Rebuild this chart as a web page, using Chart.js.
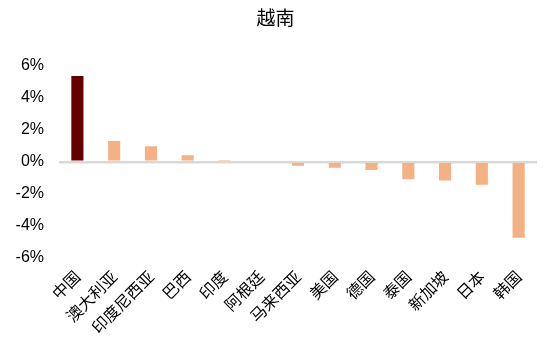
<!DOCTYPE html>
<html>
<head>
<meta charset="utf-8">
<script src="https://cdn.jsdelivr.net/npm/chart.js@4"></script>
<style>
  html, body { margin: 0; padding: 0; background: #fff; }
  #wrap { width: 550px; height: 346px; }
</style>
</head>
<body>
<div id="wrap"><canvas id="myChart"></canvas></div>
<script>
const countries = ['中国', '澳大利亚', '印度尼西亚', '巴西', '印度', '阿根廷', '马来西亚', '美国', '德国', '泰国', '新加坡', '日本', '韩国'];
const changes = [5.36, 1.30, 0.97, 0.41, 0.12, 0.0, -0.25, -0.37, -0.51, -1.09, -1.17, -1.44, -4.74];
const yTicks = [-6, -4, -2, 0, 2, 4, 6];

const cjk = '"Noto Sans CJK SC", "Noto Sans", sans-serif';

const barColors = countries.map((c, i) => i === 0 ? '#640000' : '#F4B183');

new Chart(document.getElementById('myChart'), {
    type: 'bar',
    data: {
        labels: countries,
        datasets: [
            {
                data: changes,
                backgroundColor: barColors,
                categoryPercentage: 1,
                barPercentage: 0.33
            }
        ]
    },
    options: {
        responsive: true,
        maintainAspectRatio: false,
        animation: false,
        layout: {
            padding: {left: 14, right: 13, top: 0, bottom: 8}
        },
        plugins: {
            legend: {display: false},
            tooltip: {enabled: false},
            title: {
                display: true,
                text: '越南',
                color: '#000',
                font: {family: cjk, size: 19, weight: 'normal'},
                padding: {top: 6, bottom: 37}
            }
        },
        scales: {
            x: {
                grid: {display: false},
                border: {display: false},
                afterFit(axis) {
                    axis.paddingLeft = 0;
                    axis.paddingRight = 0;
                },
                ticks: {
                    color: '#000',
                    font: {family: cjk, size: 16},
                    minRotation: 45,
                    maxRotation: 45,
                    padding: 1
                }
            },
            y: {
                min: -6,
                max: 6,
                afterBuildTicks(axis) {
                    axis.ticks = yTicks.map(v => ({value: v}));
                },
                afterFit(axis) {
                    axis.width = 45;
                },
                border: {display: false},
                grid: {
                    drawTicks: false,
                    color: ctx => ctx.tick && ctx.tick.value === 0 ? '#d9d9d9' : 'rgba(0,0,0,0)',
                    lineWidth: ctx => ctx.tick && ctx.tick.value === 0 ? 2.5 : 0
                },
                ticks: {
                    color: '#000',
                    font: {family: '"Liberation Sans", Arial, sans-serif', size: 16},
                    padding: 15,
                    callback: v => v + '%'
                }
            }
        }
    }
});
</script>
</body>
</html>
